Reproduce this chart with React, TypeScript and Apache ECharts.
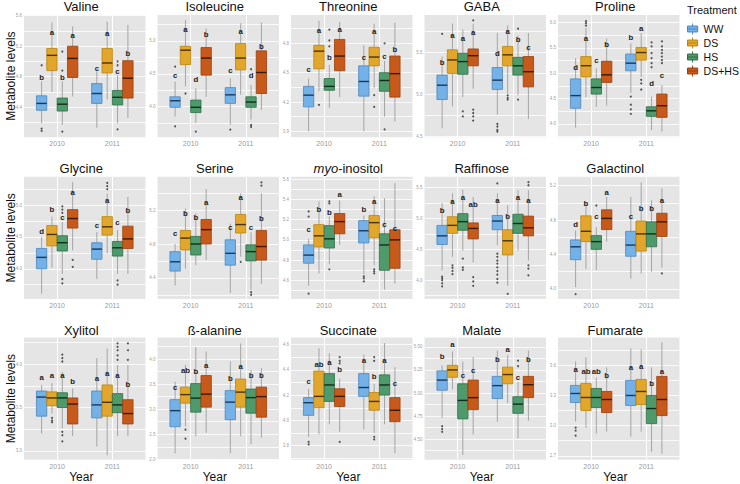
import React, { useEffect, useRef } from "react";
import * as echarts from "echarts";

const YEARS = ["2010", "2011"];
const TREATMENTS = ["WW", "DS", "HS", "DS+HS"];

// box = [lower whisker, Q1, median, Q3, upper whisker]
// order: 2010 WW, DS, HS, DS+HS, 2011 WW, DS, HS, DS+HS
const valineBoxes = [
  [4.19, 4.36, 4.45, 4.55, 4.74], [4.6, 4.88, 5.08, 5.17, 5.51], [4.17, 4.35, 4.44, 4.52, 4.74], [4.54, 4.79, 5.04, 5.2, 5.46],
  [4.13, 4.45, 4.58, 4.71, 4.87], [4.5, 4.85, 4.98, 5.17, 5.52], [4.19, 4.43, 4.53, 4.62, 4.82], [4.26, 4.52, 4.78, 5.01, 5.48],
];
const valineOutliers = [[4.95, 4.12, 4.09], [], [5.13, 4.88, 4.08], [], [], [], [5.0, 4.95, 4.11], []];
const valineLetters = ["b", "a", "b", "a", "c", "a", "c", "b"];
const valineLetterY = [4.79, 5.38, 4.79, 5.34, 4.91, 5.36, 4.87, 5.11];
const valineTicks = [4.4, 4.8, 5.2, 5.6];
const valineRange = [4.006, 5.609];

const isoleucineBoxes = [
  [3.85, 3.99, 4.09, 4.15, 4.38], [4.31, 4.64, 4.86, 4.92, 5.32], [3.75, 3.91, 3.99, 4.1, 4.28], [4.15, 4.48, 4.74, 4.9, 5.19],
  [3.72, 4.05, 4.18, 4.29, 4.43], [4.18, 4.56, 4.74, 4.96, 5.27], [3.8, 3.99, 4.07, 4.15, 4.33], [3.95, 4.2, 4.52, 4.85, 5.28],
];
const isoleucineOutliers = [[4.61, 3.7], [4.2], [3.62], [], [3.65], [], [4.57, 3.72, 3.69], []];
const isoleucineLetters = ["c", "a", "d", "b", "c", "a", "d", "b"];
const isoleucineLetterY = [4.48, 5.17, 4.41, 5.1, 4.55, 5.14, 4.47, 4.91];
const isoleucineTicks = [4.0, 4.5, 5.0];
const isoleucineRange = [3.533, 5.396];

const threonineBoxes = [
  [3.9, 4.15, 4.27, 4.36, 4.44], [4.31, 4.54, 4.72, 4.78, 5.03], [4.14, 4.32, 4.36, 4.44, 4.58], [4.25, 4.52, 4.67, 4.84, 5.02],
  [3.9, 4.26, 4.41, 4.57, 4.78], [4.34, 4.57, 4.66, 4.76, 5.0], [4.05, 4.31, 4.42, 4.5, 4.62], [4.0, 4.25, 4.49, 4.67, 5.01],
];
const threonineOutliers = [[], [4.17], [4.94, 4.83, 4.77], [], [], [4.27, 4.15], [4.8, 3.92], []];
const threonineLetters = ["c", "a", "b", "a", "c", "a", "c", "b"];
const threonineLetterY = [4.53, 4.93, 4.66, 4.94, 4.66, 4.92, 4.67, 4.74];
const threonineTicks = [3.9, 4.2, 4.5, 4.8];
const threonineRange = [3.839, 5.09];

const gabaBoxes = [
  [4.6, 4.94, 5.11, 5.23, 5.45], [4.86, 5.25, 5.41, 5.53, 5.84], [4.97, 5.24, 5.39, 5.49, 5.77], [5.07, 5.34, 5.46, 5.54, 5.84],
  [4.76, 5.06, 5.17, 5.32, 5.73], [5.01, 5.34, 5.47, 5.57, 5.82], [4.99, 5.23, 5.34, 5.44, 5.7], [4.71, 5.09, 5.27, 5.45, 5.73],
];
const gabaOutliers = [[5.72], [], [4.8, 4.74], [5.88, 4.82, 4.78, 4.74, 4.69], [4.65, 4.62, 4.58, 4.56], [4.99, 4.96, 4.94], [5.78, 4.94], []];
const gabaLetters = ["b", "a", "a", "a", "d", "a", "b", "c"];
const gabaLetterY = [5.38, 5.7, 5.67, 5.73, 5.49, 5.75, 5.65, 5.56];
const gabaTicks = [4.5, 5.0, 5.5];
const gabaRange = [4.492, 5.943];

const prolineBoxes = [
  [3.93, 4.31, 4.56, 4.89, 5.3], [4.53, 4.93, 5.15, 5.33, 5.89], [4.34, 4.59, 4.72, 4.89, 5.1], [4.36, 4.82, 4.97, 5.24, 5.69],
  [4.61, 5.05, 5.2, 5.38, 5.59], [4.93, 5.26, 5.41, 5.51, 5.79], [3.88, 4.15, 4.26, 4.34, 4.54], [3.85, 4.13, 4.36, 4.59, 4.77],
];
const prolineOutliers = [[], [6.03, 5.99, 5.94], [], [], [4.54, 4.38, 4.29, 4.2], [4.87, 4.8, 4.68], [5.61, 5.53, 5.4, 5.3, 5.2, 5.12], [5.63, 5.53, 5.46, 5.4, 5.33, 5.26, 5.2]];
const prolineLetters = ["d", "a", "c", "b", "b", "a", "d", "c"];
const prolineLetterY = [5.11, 5.69, 5.25, 5.56, 5.7, 5.89, 4.8, 4.95];
const prolineTicks = [4.0, 4.5, 5.0, 5.5, 6.0];
const prolineRange = [3.737, 6.151];

const glycineBoxes = [
  [3.61, 4.0, 4.18, 4.32, 4.5], [4.02, 4.36, 4.54, 4.68, 4.82], [3.92, 4.28, 4.41, 4.52, 4.74], [4.29, 4.64, 4.79, 4.93, 5.36],
  [3.84, 4.15, 4.31, 4.41, 4.58], [4.24, 4.53, 4.66, 4.82, 5.18], [3.92, 4.2, 4.33, 4.43, 4.61], [3.92, 4.32, 4.47, 4.67, 5.13],
];
const glycineOutliers = [[], [], [4.98, 4.93, 4.88, 3.84, 3.77], [4.14, 4.03], [], [5.35, 5.3, 5.25], [3.82, 3.75], []];
const glycineLetters = ["d", "b", "c", "a", "c", "a", "c", "b"];
const glycineLetterY = [4.59, 4.93, 4.8, 5.2, 4.68, 5.08, 4.72, 4.91];
const glycineTicks = [4.0, 4.5, 5.0];
const glycineRange = [3.526, 5.447];

const serineBoxes = [
  [4.31, 4.48, 4.59, 4.71, 4.8], [4.51, 4.73, 4.87, 4.96, 5.22], [4.55, 4.67, 4.8, 4.89, 5.16], [4.61, 4.8, 4.97, 5.09, 5.45],
  [4.22, 4.55, 4.69, 4.85, 5.04], [4.65, 4.93, 5.03, 5.15, 5.4], [4.26, 4.6, 4.71, 4.79, 4.94], [4.33, 4.61, 4.77, 4.96, 5.4],
];
const serineOutliers = [[], [], [], [], [], [4.59], [4.23, 4.2], [5.53, 5.49]];
const serineLetters = ["c", "b", "b", "a", "c", "a", "c", "b"];
const serineLetterY = [4.92, 5.16, 5.11, 5.29, 5.0, 5.35, 5.0, 5.1];
const serineTicks = [4.4, 4.8, 5.2];
const serineRange = [4.15, 5.596];

const myoInositolBoxes = [
  [4.55, 4.77, 4.85, 4.95, 5.01], [4.67, 4.93, 5.04, 5.15, 5.38], [4.76, 4.92, 5.01, 5.14, 5.23], [4.95, 5.06, 5.18, 5.26, 5.39],
  [4.66, 4.97, 5.09, 5.19, 5.24], [4.75, 5.02, 5.17, 5.24, 5.43], [4.51, 4.7, 4.95, 5.06, 5.41], [4.57, 4.72, 5.0, 5.1, 5.56],
];
const myoInositolOutliers = [[5.28, 5.23, 4.47], [], [5.38, 5.36, 4.71], [], [4.64, 4.62, 4.59], [4.71, 4.69, 4.67], [], []];
const myoInositolLetters = ["c", "b", "b", "a", "b", "a", "c", "c"];
const myoInositolLetterY = [5.1, 5.3, 5.27, 5.45, 5.3, 5.38, 5.15, 5.11];
const myoInositolTicks = [4.6, 4.8, 5.0, 5.2, 5.4, 5.6];
const myoInositolRange = [4.417, 5.623];

const raffinoseBoxes = [
  [4.16, 4.58, 4.72, 4.89, 5.25], [4.38, 4.76, 4.89, 5.03, 5.41], [4.48, 4.81, 4.95, 5.08, 5.47], [4.29, 4.67, 4.84, 4.93, 5.35],
  [4.57, 4.82, 4.96, 5.05, 5.41], [3.91, 4.41, 4.64, 4.82, 5.22], [4.48, 4.76, 4.92, 5.07, 5.46], [4.32, 4.72, 4.85, 5.04, 5.46],
];
const raffinoseOutliers = [
  [4.06, 4.03, 4.0, 3.95, 3.9], [4.24, 4.2, 4.15, 4.1], [4.35, 4.21, 4.17], [4.05, 3.98, 3.91],
  [5.57, 4.43, 4.38, 4.32, 4.27, 4.21, 4.15, 4.09, 4.02, 3.96], [3.78], [], [5.59, 5.54, 4.24, 4.19, 4.08],
];
const raffinoseLetters = ["b", "a", "a", "ab", "a", "b", "a", "a"];
const raffinoseLetterY = [5.13, 5.27, 5.34, 5.23, 5.3, 5.04, 5.34, 5.29];
const raffinoseTicks = [4.0, 4.5, 5.0, 5.5];
const raffinoseRange = [3.696, 5.679];

const galactinolBoxes = [
  [4.02, 4.34, 4.49, 4.57, 4.68], [4.23, 4.55, 4.67, 4.85, 5.01], [4.22, 4.46, 4.55, 4.62, 4.72], [4.55, 4.69, 4.82, 4.92, 5.07],
  [4.12, 4.38, 4.51, 4.67, 5.07], [4.18, 4.44, 4.64, 4.79, 5.24], [4.2, 4.49, 4.64, 4.78, 5.03], [4.25, 4.61, 4.78, 4.88, 5.17],
];
const galactinolOutliers = [[3.94], [], [4.97], [], [], [], [], [4.18]];
const galactinolLetters = ["d", "b", "c", "a", "c", "b", "b", "a"];
const galactinolLetterY = [4.75, 4.99, 4.84, 5.12, 4.84, 4.94, 4.94, 5.03];
const galactinolTicks = [4.0, 4.4, 4.8, 5.2];
const galactinolRange = [3.883, 5.305];

const xylitolBoxes = [
  [3.2, 3.4, 3.62, 3.69, 3.76], [3.43, 3.52, 3.61, 3.68, 3.78], [3.26, 3.5, 3.61, 3.67, 3.91], [3.17, 3.31, 3.54, 3.61, 3.72],
  [3.05, 3.38, 3.53, 3.69, 4.07], [2.95, 3.4, 3.56, 3.76, 4.18], [3.17, 3.44, 3.53, 3.66, 3.99], [3.17, 3.31, 3.43, 3.59, 3.99],
];
const xylitolOutliers = [[], [3.38, 3.35, 3.33], [4.11, 4.07, 4.03, 3.22, 3.18, 3.11], [], [], [], [4.24, 4.2, 4.16, 4.1, 4.05], [4.24, 4.16, 4.05]];
const xylitolLetters = ["a", "a", "a", "b", "a", "a", "a", "b"];
const xylitolLetterY = [3.85, 3.87, 3.87, 3.8, 3.84, 3.89, 3.87, 3.77];
const xylitolTicks = [3.0, 3.5, 4.0];
const xylitolRange = [2.897, 4.307];

const betaAlanineBoxes = [
  [2.12, 2.65, 2.97, 3.19, 3.55], [2.66, 3.12, 3.29, 3.44, 3.88], [2.46, 2.94, 3.22, 3.51, 4.24], [2.53, 3.04, 3.3, 3.67, 4.15],
  [2.12, 2.79, 3.14, 3.37, 3.95], [2.46, 3.04, 3.34, 3.6, 4.31], [2.3, 2.92, 3.23, 3.4, 3.78], [2.43, 2.84, 3.25, 3.44, 3.82],
];
const betaAlanineOutliers = [[], [2.59, 2.41], [], [], [], [], [], []];
const betaAlanineLetters = ["c", "ab", "b", "a", "b", "a", "b", "b"];
const betaAlanineLetterY = [3.44, 3.78, 3.75, 3.88, 3.62, 3.85, 3.67, 3.67];
const betaAlanineTicks = [2.0, 2.5, 3.0, 3.5, 4.0];
const betaAlanineRange = [1.99, 4.429];

const succinateBoxes = [
  [3.87, 4.04, 4.14, 4.18, 4.25], [3.89, 4.1, 4.19, 4.39, 4.57], [3.97, 4.15, 4.28, 4.37, 4.53], [3.91, 4.11, 4.19, 4.25, 4.33],
  [3.93, 4.19, 4.26, 4.37, 4.52], [3.9, 4.08, 4.15, 4.22, 4.29], [3.97, 4.2, 4.28, 4.36, 4.61], [3.74, 3.99, 4.08, 4.18, 4.42],
];
const succinateOutliers = [[3.83, 3.81], [], [], [4.5, 4.47, 4.45, 3.83], [], [4.5, 4.47, 3.87, 3.85], [], []];
const succinateLetters = ["c", "ab", "a", "b", "a", "b", "a", "c"];
const succinateLetterY = [4.31, 4.44, 4.46, 4.4, 4.47, 4.35, 4.47, 4.29];
const succinateTicks = [3.8, 4.0, 4.2, 4.4, 4.6];
const succinateRange = [3.689, 4.655];

const malateBoxes = [
  [4.73, 5.03, 5.14, 5.24, 5.3], [5.04, 5.17, 5.25, 5.3, 5.45], [4.33, 4.72, 4.92, 5.1, 5.34], [4.55, 4.82, 4.95, 5.14, 5.39],
  [4.69, 4.94, 5.08, 5.18, 5.46], [4.89, 5.1, 5.2, 5.28, 5.41], [4.51, 4.78, 4.88, 4.96, 5.12], [4.7, 4.95, 5.09, 5.18, 5.46],
];
const malateOutliers = [[4.64, 4.61, 4.58], [], [], [], [], [], [5.35, 5.29], []];
const malateLetters = ["b", "a", "c", "c", "b", "a", "c", "b"];
const malateLetterY = [5.39, 5.53, 5.19, 5.24, 5.36, 5.47, 5.17, 5.36];
const malateTicks = [4.5, 4.75, 5.0, 5.25, 5.5];
const malateRange = [4.277, 5.601];

const fumarateBoxes = [
  [3.04, 3.23, 3.32, 3.4, 3.64], [2.98, 3.15, 3.28, 3.42, 3.68], [2.92, 3.18, 3.28, 3.37, 3.48], [2.94, 3.13, 3.26, 3.34, 3.58],
  [2.89, 3.2, 3.3, 3.45, 3.77], [2.94, 3.21, 3.34, 3.46, 3.76], [2.74, 3.02, 3.17, 3.3, 3.58], [2.72, 3.1, 3.26, 3.49, 3.83],
];
const fumarateOutliers = [[2.98, 2.95, 2.9], [], [], [], [], [], [], []];
const fumarateLetters = ["a", "ab", "ab", "b", "a", "a", "b", "a"];
const fumarateLetterY = [3.56, 3.54, 3.54, 3.5, 3.58, 3.59, 3.42, 3.54];
const fumarateTicks = [2.7, 3.0, 3.3, 3.6];
const fumarateRange = [2.66, 3.877];

const PANELS = [
  { title: "Valine", boxes: valineBoxes, outliers: valineOutliers, letters: valineLetters, letterY: valineLetterY, ticks: valineTicks, range: valineRange, dec: 1 },
  { title: "Isoleucine", boxes: isoleucineBoxes, outliers: isoleucineOutliers, letters: isoleucineLetters, letterY: isoleucineLetterY, ticks: isoleucineTicks, range: isoleucineRange, dec: 1 },
  { title: "Threonine", boxes: threonineBoxes, outliers: threonineOutliers, letters: threonineLetters, letterY: threonineLetterY, ticks: threonineTicks, range: threonineRange, dec: 1 },
  { title: "GABA", boxes: gabaBoxes, outliers: gabaOutliers, letters: gabaLetters, letterY: gabaLetterY, ticks: gabaTicks, range: gabaRange, dec: 1 },
  { title: "Proline", boxes: prolineBoxes, outliers: prolineOutliers, letters: prolineLetters, letterY: prolineLetterY, ticks: prolineTicks, range: prolineRange, dec: 1 },
  { title: "Glycine", boxes: glycineBoxes, outliers: glycineOutliers, letters: glycineLetters, letterY: glycineLetterY, ticks: glycineTicks, range: glycineRange, dec: 1 },
  { title: "Serine", boxes: serineBoxes, outliers: serineOutliers, letters: serineLetters, letterY: serineLetterY, ticks: serineTicks, range: serineRange, dec: 1 },
  { title: "{i|myo}-inositol", boxes: myoInositolBoxes, outliers: myoInositolOutliers, letters: myoInositolLetters, letterY: myoInositolLetterY, ticks: myoInositolTicks, range: myoInositolRange, dec: 1 },
  { title: "Raffinose", boxes: raffinoseBoxes, outliers: raffinoseOutliers, letters: raffinoseLetters, letterY: raffinoseLetterY, ticks: raffinoseTicks, range: raffinoseRange, dec: 1 },
  { title: "Galactinol", boxes: galactinolBoxes, outliers: galactinolOutliers, letters: galactinolLetters, letterY: galactinolLetterY, ticks: galactinolTicks, range: galactinolRange, dec: 1 },
  { title: "Xylitol", boxes: xylitolBoxes, outliers: xylitolOutliers, letters: xylitolLetters, letterY: xylitolLetterY, ticks: xylitolTicks, range: xylitolRange, dec: 1 },
  { title: "ß-alanine", boxes: betaAlanineBoxes, outliers: betaAlanineOutliers, letters: betaAlanineLetters, letterY: betaAlanineLetterY, ticks: betaAlanineTicks, range: betaAlanineRange, dec: 1 },
  { title: "Succinate", boxes: succinateBoxes, outliers: succinateOutliers, letters: succinateLetters, letterY: succinateLetterY, ticks: succinateTicks, range: succinateRange, dec: 1 },
  { title: "Malate", boxes: malateBoxes, outliers: malateOutliers, letters: malateLetters, letterY: malateLetterY, ticks: malateTicks, range: malateRange, dec: 2 },
  { title: "Fumarate", boxes: fumarateBoxes, outliers: fumarateOutliers, letters: fumarateLetters, letterY: fumarateLetterY, ticks: fumarateTicks, range: fumarateRange, dec: 1 },
];

const FILL = ["#73B1E7", "#E2A62D", "#4F9A6B", "#C75A1B"];
const EDGE = ["#4C87BE", "#B7850F", "#2E6E47", "#98400E"];
const MED = ["#1C3A5E", "#4A3306", "#0F2E1C", "#3A1804"];

const COL_LEFT = [24, 157.5, 291, 424.5, 558];
const ROW_TOP = [15, 176.7, 337.5];
const PANEL_W = 121.5;
const PANEL_H = 122.3;
const DODGE = [-0.28125, -0.09375, 0.09375, 0.28125];
const BOX_W = 0.1875;
const FONT = "'Liberation Sans', Arial, Helvetica, sans-serif";

function buildOption() {
  const grid: any[] = [];
  const xAxis: any[] = [];
  const yAxis: any[] = [];
  const series: any[] = [];
  const graphic: any[] = [];

  PANELS.forEach((p, i) => {
    const r = Math.floor(i / 5);
    const c = i % 5;
    const left = COL_LEFT[c];
    const top = ROW_TOP[r];
    grid.push({ left, top, width: PANEL_W, height: PANEL_H, show: true, backgroundColor: "#E5E5E5", borderWidth: 0 });

    const step = p.ticks[1] - p.ticks[0];
    const grids: number[] = [];
    for (let v = p.ticks[0] - step / 2; v <= p.range[1] + 1e-9; v += step / 2) {
      if (v >= p.range[0]) grids.push(Math.round(v * 1000) / 1000);
    }

    xAxis.push({
      gridIndex: i, type: "value", min: 0.4, max: 2.6,
      axisLine: { show: false },
      axisTick: { show: false, customValues: [1, 2] },
      axisLabel: { customValues: [1, 2], formatter: (v: number) => YEARS[Math.round(v) - 1], color: "#9a9a9a", fontSize: 7, margin: 3, fontFamily: FONT },
      splitLine: { show: true, lineStyle: { color: "#ffffff", width: 1 } },
    });
    yAxis.push({
      gridIndex: i, type: "value", min: p.range[0], max: p.range[1],
      axisLine: { show: false },
      axisTick: { show: false, customValues: grids },
      axisLabel: { customValues: p.ticks, formatter: (v: number) => v.toFixed(p.dec), color: "#a0a0a0", fontSize: 4.5, margin: 2, fontFamily: FONT },
      splitLine: { show: true, lineStyle: { color: "#ffffff", width: 0.8 } },
    });

    TREATMENTS.forEach((t, k) => {
      const data = YEARS.map((_, yi) => {
        const b = p.boxes[yi * 4 + k];
        return [yi + 1 + DODGE[k], b[0], b[1], b[2], b[3], b[4], p.letterY[yi * 4 + k]];
      });
      series.push({
        type: "custom", name: t, xAxisIndex: i, yAxisIndex: i, silent: true,
        itemStyle: { color: FILL[k], borderColor: EDGE[k], borderWidth: 1 },
        encode: { x: 0, y: [1, 2, 3, 4, 5, 6] },
        data,
        renderItem: (params: any, api: any) => {
          const x = api.value(0);
          const lo = api.coord([x, api.value(1)]);
          const q1 = api.coord([x, api.value(2)]);
          const md = api.coord([x, api.value(3)]);
          const q3 = api.coord([x, api.value(4)]);
          const hi = api.coord([x, api.value(5)]);
          const ly = api.coord([x, api.value(6)]);
          const w = api.size([BOX_W, 0])[0];
          const cx = md[0];
          const letter = p.letters[params.dataIndex * 4 + k];
          return {
            type: "group",
            children: [
              { type: "line", shape: { x1: cx, y1: lo[1], x2: cx, y2: hi[1] }, style: { stroke: "#8f8f8f", lineWidth: 0.75 } },
              { type: "rect", shape: { x: cx - w / 2, y: q3[1], width: w, height: q1[1] - q3[1] }, style: { fill: FILL[k], stroke: EDGE[k], lineWidth: 0.8 } },
              { type: "line", shape: { x1: cx - w / 2, y1: md[1], x2: cx + w / 2, y2: md[1] }, style: { stroke: MED[k], lineWidth: 1.4 } },
              { type: "text", style: { text: letter, x: cx, y: ly[1], align: "center", verticalAlign: "middle", fontSize: 7.8, fontWeight: "bold", fill: "#1a1a1a", fontFamily: FONT } },
            ],
          };
        },
      });
    });

    const outData: number[][] = [];
    p.outliers.forEach((arr, j) => {
      const yi = Math.floor(j / 4);
      const k = j % 4;
      arr.forEach((v) => outData.push([yi + 1 + DODGE[k], v]));
    });
    series.push({
      type: "scatter", name: "outliers-" + i, xAxisIndex: i, yAxisIndex: i, silent: true,
      symbol: "circle", symbolSize: 2, itemStyle: { color: "#2a2a2a" }, data: outData,
    });

    const cxTitle = left + PANEL_W / 2 - 3.5;
    const cyTitle = [6.8, 168.3, 330.2][r];
    graphic.push({
      type: "text", x: cxTitle, y: cyTitle,
      style: {
        text: p.title, align: "center", verticalAlign: "middle", fontSize: 13, fill: "#111", fontFamily: FONT,
        rich: { i: { fontStyle: "italic", fontSize: 13, fill: "#111", fontFamily: FONT } },
      },
    });
    if (r === 2) {
      graphic.push({
        type: "text", x: cxTitle, y: 476.5,
        style: { text: "Year", align: "center", verticalAlign: "middle", fontSize: 12, fill: "#111", fontFamily: FONT },
      });
    }
  });

  ROW_TOP.forEach((t) => {
    graphic.push({
      type: "text", x: 11, y: t + PANEL_H / 2, rotation: Math.PI / 2,
      style: { text: "Metabolite levels", align: "center", verticalAlign: "middle", fontSize: 12, fill: "#111", fontFamily: FONT },
    });
  });
  graphic.push({
    type: "text", x: 687, y: 10,
    style: { text: "Treatment", align: "left", verticalAlign: "middle", fontSize: 11, fill: "#111", fontFamily: FONT },
  });

  return {
    animation: false,
    textStyle: { fontFamily: FONT },
    grid, xAxis, yAxis, series, graphic,
    legend: {
      data: TREATMENTS, orient: "vertical", left: 687, top: 23, selectedMode: false,
      itemWidth: 12, itemHeight: 11, itemGap: 2,
      icon: "path://M0,3h12v7h-12z M0,6.5h12 M6,0v3 M6,10v3",
      itemStyle: { borderWidth: 1 },
      textStyle: { fontSize: 10.5, color: "#111", fontFamily: FONT },
      padding: 0,
    },
  };
}

export default function App() {
  const ref = useRef<HTMLDivElement>(null);
  useEffect(() => {
    if (!ref.current) return;
    const chart = echarts.init(ref.current, undefined, { renderer: "svg" });
    chart.setOption(buildOption() as any);
    return () => chart.dispose();
  }, []);
  return <div ref={ref} style={{ position: "fixed", left: 0, top: 0, width: 740, height: 484, background: "#fff" }} />;
}
